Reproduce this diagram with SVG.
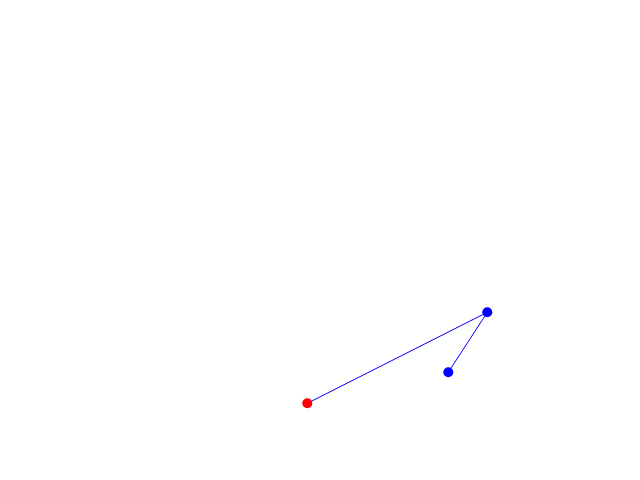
<svg xmlns="http://www.w3.org/2000/svg" width="640" height="480" viewBox="0 0 640 480">
<style>
.edge{stroke:#0000ff;stroke-width:1;fill:none}
.blue{fill:#0000ff}
.red{fill:#ff0000}
</style>
<rect width="640" height="480" fill="#ffffff"/>
<g id="connectors">
<line class="edge" x1="307.3" y1="403.3" x2="487.3" y2="312.3"/>
<line class="edge" x1="448.3" y1="372.3" x2="487.3" y2="312.3"/>
</g>
<g id="node-red"><circle class="red" cx="307.3" cy="403.3" r="5"/></g>
<g id="node-top"><circle class="blue" cx="487.3" cy="312.3" r="5"/></g>
<g id="node-lower"><circle class="blue" cx="448.3" cy="372.3" r="5"/></g>
</svg>
